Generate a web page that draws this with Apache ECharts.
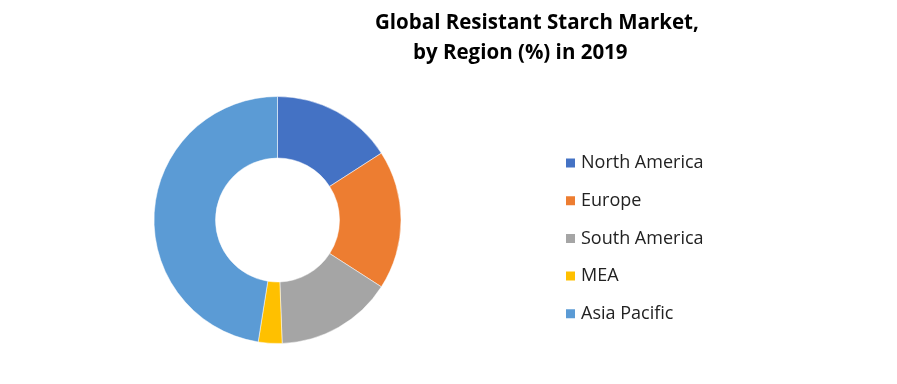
<!DOCTYPE html>
<html>
<head>
<meta charset="utf-8">
<script src="https://cdn.jsdelivr.net/npm/echarts@6/dist/echarts.min.js"></script>
<style>html,body{margin:0;padding:0;background:#fff}#c{width:897px;height:384px}</style>
</head>
<body>
<div id="c"></div>
<script>
const categories = ['North America', 'Europe', 'South America', 'MEA', 'Asia Pacific'];
const values = [15.9, 18.2, 15.3, 3.1, 47.5];
const colors = ['#4472C4', '#ED7D31', '#A5A5A5', '#FFC000', '#5B9BD5'];
const titleLines = ['Global Resistant Starch Market,', 'by Region (%) in 2019'];

const chart = echarts.init(document.getElementById('c'), null, {renderer: 'canvas'});
chart.setOption({
  animation: false,
  backgroundColor: '#fff',
  color: colors,
  title: [
    {text: titleLines[0], left: 375, top: 13, padding: 0, textStyle: {fontFamily: 'Open Sans', fontWeight: 'bold', fontSize: 20.5, color: '#000'}},
    {text: titleLines[1], left: 413, top: 43, padding: 0, textStyle: {fontFamily: 'Open Sans', fontWeight: 'bold', fontSize: 20.5, color: '#000'}}
  ],
  legend: {
    orient: 'vertical',
    left: 564,
    top: 154,
    padding: 0,
    itemWidth: 11,
    itemHeight: 11,
    itemGap: 19.7,
    icon: 'rect',
    textStyle: {fontFamily: 'Open Sans', fontSize: 18, lineHeight: 18, color: '#222'},
    data: categories
  },
  series: [{
    type: 'pie',
    center: [277.5, 220],
    radius: [62, 123.5],
    startAngle: 90,
    clockwise: true,
    label: {show: false},
    labelLine: {show: false},
    itemStyle: {borderColor: '#fff', borderWidth: 0.5},
    emphasis: {disabled: true},
    data: categories.map((n, i) => ({name: n, value: values[i]}))
  }]
});
</script>
</body>
</html>
